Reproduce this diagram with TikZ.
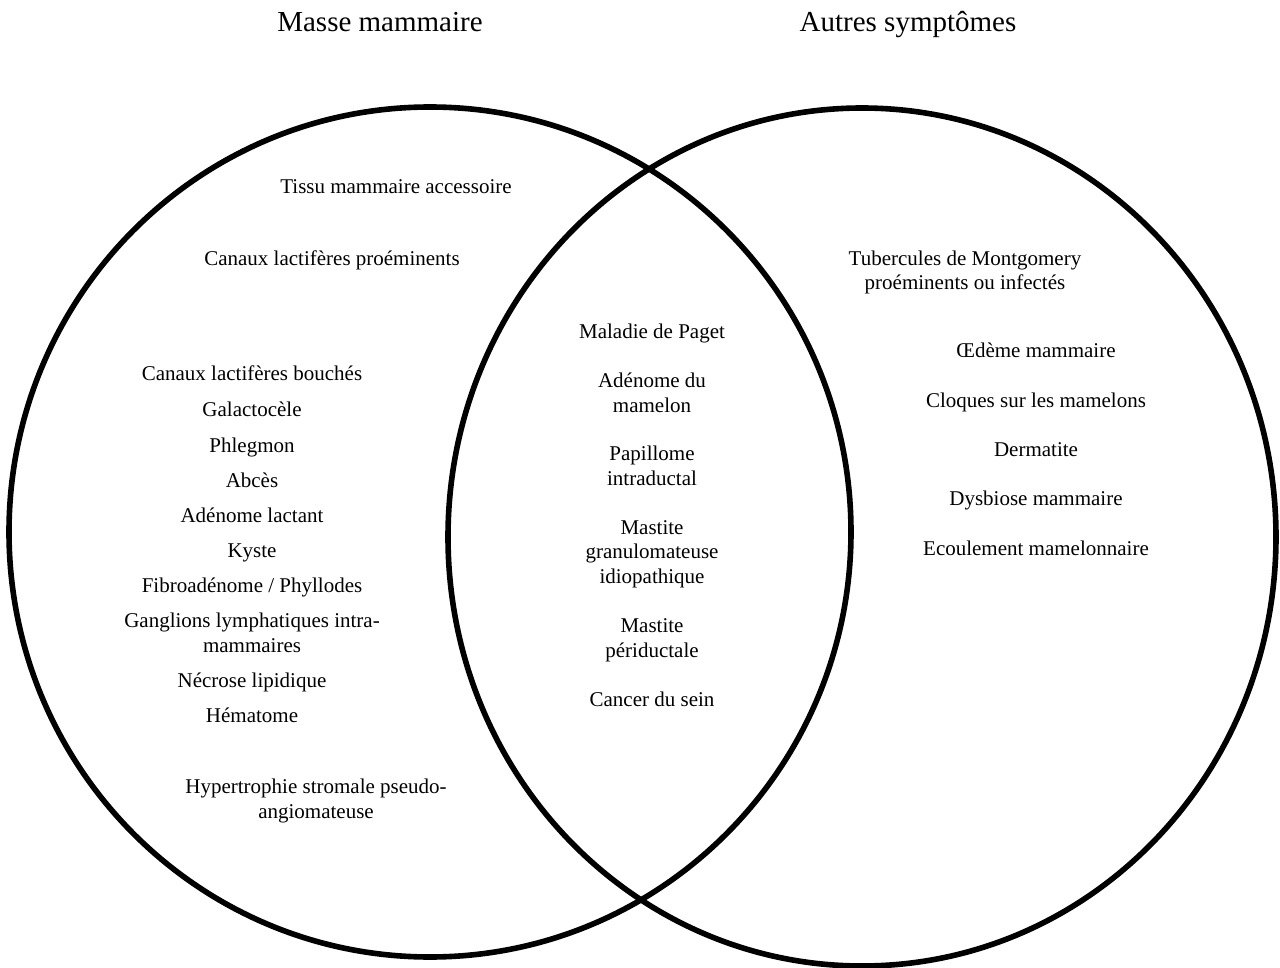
\documentclass[tikz,border=0pt]{standalone}
\usepackage{fontspec}
\setmainfont{Liberation Serif}
\usetikzlibrary{positioning}

\begin{document}
\begin{tikzpicture}[x=1pt, y=-1pt,
  item/.style={align=center, anchor=base, inner sep=0pt, font=\fontsize{21}{24.5}\selectfont},
  title/.style={anchor=base, inner sep=0pt, font=\fontsize{29}{34}\selectfont},
  set/.style={draw, line width=5.6pt}]
\useasboundingbox (0,0) rectangle (1280,968);
%============
\draw[set] (430,532) ellipse [x radius=421, y radius=425];
\draw[set] (862,537) ellipse [x radius=414, y radius=429];
%============
\node[title] (TL) at (380,32) {Masse mammaire};
\node[title] (TR) at (908,32) {Autres symptômes};
%==========
\node[item] (L1) at (396,194) {Tissu mammaire accessoire};
\node[item] (L2) at (332,266) {Canaux lactifères proéminents};
\node[item] (L3) at (252,381) {Canaux lactifères bouchés};
\node[item] (L4) at (252,416) {Galactocèle};
\node[item] (L5) at (252,452) {Phlegmon};
\node[item] (L6) at (252,487) {Abcès};
\node[item] (L7) at (252,522) {Adénome lactant};
\node[item] (L8) at (252,557) {Kyste};
\node[item] (L9) at (252,592) {Fibroadénome / Phyllodes};
\node[item] (L10) at (252,652) {Ganglions lymphatiques intra-\\mammaires};
\node[item] (L11) at (252,687) {Nécrose lipidique};
\node[item] (L12) at (252,722) {Hématome};
\node[item] (L13) at (316,818) {Hypertrophie stromale pseudo-\\angiomateuse};
%==========
\node[item] (M1) at (652,338) {Maladie de Paget};
\node[item] (M2) at (652,412) {Adénome du\\mamelon};
\node[item] (M3) at (652,485) {Papillome\\intraductal};
\node[item] (M4) at (652,583) {Mastite\\granulomateuse\\idiopathique};
\node[item] (M5) at (652,657) {Mastite\\périductale};
\node[item] (M6) at (652,706) {Cancer du sein};
%==========
\node[item] (R1) at (965,290) {Tubercules de Montgomery\\proéminents ou infectés};
\node[item] (R2) at (1036,358) {Œdème mammaire};
\node[item] (R3) at (1036,407) {Cloques sur les mamelons};
\node[item] (R4) at (1036,456) {Dermatite};
\node[item] (R5) at (1036,505) {Dysbiose mammaire};
\node[item] (R6) at (1036,555) {Ecoulement mamelonnaire};
\end{tikzpicture}
\end{document}
